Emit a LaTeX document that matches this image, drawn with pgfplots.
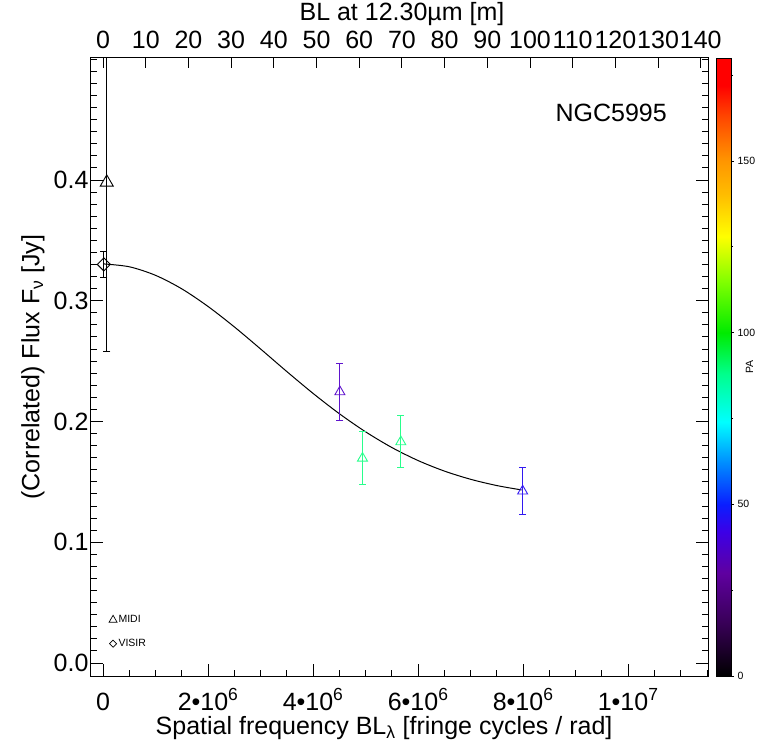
\documentclass[border=0pt]{standalone}
\usepackage{pgfplots}
\pgfplotsset{compat=1.18}
\usepackage{fontspec}
\setmainfont{Liberation Sans}
\newcommand{\fbig}{\fontsize{25}{29}\selectfont}
\newcommand{\fsmall}{\fontsize{10.5}{12.5}\selectfont}
\definecolor{papurple}{RGB}{95,20,205}
\definecolor{pagreen}{RGB}{40,255,140}
\definecolor{pablue}{RGB}{50,25,240}
\pgfplotsset{colormap={pa}{rgb255(0pt)=(0,0,0) rgb255(15pt)=(55,0,85) rgb255(30pt)=(95,0,160) rgb255(42pt)=(60,0,230) rgb255(50pt)=(10,30,255) rgb255(62pt)=(0,140,255) rgb255(74pt)=(0,255,255) rgb255(88pt)=(0,255,140) rgb255(100pt)=(0,235,0) rgb255(115pt)=(130,255,0) rgb255(128pt)=(255,255,0) rgb255(140pt)=(255,190,0) rgb255(150pt)=(255,150,0) rgb255(163pt)=(255,70,0) rgb255(172pt)=(255,0,0) rgb255(180pt)=(255,0,0)}}
\begin{document}
\begin{tikzpicture}
\useasboundingbox (-91pt,-66pt) rectangle (666pt,676pt);
\begin{axis}[
  scale only axis, width=617pt, height=618pt,
  xmin=-2.3e5, xmax=1.152e7, ymin=-0.0108, ymax=0.501,
  scaled x ticks=false, scaled y ticks=false,
  xtick={0,2e6,4e6,6e6,8e6,1e7},
  xticklabels={0,2•10\textsuperscript{6},4•10\textsuperscript{6},6•10\textsuperscript{6},8•10\textsuperscript{6},1•10\textsuperscript{7}},
  minor xtick={5e5,1e6,1.5e6,2.5e6,3e6,3.5e6,4.5e6,5e6,5.5e6,6.5e6,7e6,7.5e6,8.5e6,9e6,9.5e6,1.05e7,1.1e7,1.15e7},
  ytick={0,0.1,0.2,0.3,0.4},
  minor ytick={0.01,0.02,0.03,0.04,0.05,0.06,0.07,0.08,0.09,0.11,0.12,0.13,0.14,0.15,0.16,0.17,0.18,0.19,0.21,0.22,0.23,0.24,0.25,0.26,0.27,0.28,0.29,0.31,0.32,0.33,0.34,0.35,0.36,0.37,0.38,0.39,0.41,0.42,0.43,0.44,0.45,0.46,0.47,0.48,0.49,0.5},
  yticklabel style={xshift=1pt, /pgf/number format/.cd, fixed, fixed zerofill, precision=1},
  /pgf/number format/assume math mode=true,
  tick label style={font=\fbig},
  xticklabel style={anchor=base, yshift=-34pt},
  tick align=inside, major tick length=12pt, minor tick length=6pt,
  xtick pos=left,
  axis line style={line width=1pt},
  every tick/.style={black, line width=0.9pt},
  xlabel={Spatial frequency BL\textsubscript{λ} [fringe cycles / rad]},
  xlabel style={font=\fbig, at={(axis description cs:0.475,-0.0841)}, anchor=center},
  ylabel={(Correlated) Flux F\textsubscript{ν} [Jy]},
  ylabel style={font=\fbig, at={(axis description cs:-0.094,0.5)}, anchor=center},
  colormap name=pa, colorbar, point meta min=0, point meta max=180,
  colorbar style={
    scale only axis, width=15pt, height=618pt,
    at={(parent axis.north east)}, anchor=north west, xshift=0pt,
    ytick={0,50,100,150}, minor ytick={25,75,125,175},
    ytick pos=right, yticklabel pos=right,
    yticklabel style={font=\fsmall},
    /pgf/number format/assume math mode=true,
    ylabel={PA}, ylabel style={font=\fsmall}, ylabel shift=-16pt,
    tick align=outside, major tick length=2.5pt, minor tick length=1.5pt,
    axis line style={line width=0.6pt},
  },
  legend style={at={(rel axis cs:0.029,0.099)}, anchor=north west, draw=none, fill=none, inner sep=0pt, row sep=14pt, column sep=1pt, font=\fsmall, nodes={inner sep=0.5pt}},
  legend cell align=left,
  legend image code/.code={\draw[#1] plot coordinates {(0pt,0pt)};},
  error bars/y dir=both, error bars/y explicit,
  error bars/error mark options={rotate=90, mark size=3.5pt, line width=1pt},
  error bars/error bar style={line width=1pt},
]
\addplot[black, line width=1pt, smooth, forget plot] coordinates {
(0,0.3305) (5e5,0.3281) (1e6,0.3210) (1.5e6,0.3098) (2e6,0.2952) (2.5e6,0.2783)
(3e6,0.2600) (3.5e6,0.2413) (4e6,0.2232) (4.5e6,0.2064) (5e6,0.1914)
(5.5e6,0.1784) (6e6,0.1676) (6.5e6,0.1589) (7e6,0.1521) (7.5e6,0.1469) (7.97e6,0.1433)};
\addplot[black, only marks, mark=triangle, mark size=7.5pt, line width=0.9pt, forget plot] coordinates {(7e4,0.398) +- (0,0.140)};
\addplot[black, only marks, mark=square, mark size=4.6pt, mark options={rotate=45}, line width=0.9pt, forget plot] coordinates {(1.5e4,0.330) +- (0,0.011)};
\addplot[papurple, only marks, mark=triangle, mark size=5.8pt, line width=0.9pt, forget plot] coordinates {(4.51e6,0.2245) +- (0,0.0237)};
\addplot[pagreen, only marks, mark=triangle, mark size=5.8pt, line width=0.9pt, forget plot] coordinates {(4.94e6,0.1695) +- (0,0.0221) (5.67e6,0.1831) +- (0,0.0216)};
\addplot[pablue, only marks, mark=triangle, mark size=5.8pt, line width=0.9pt, forget plot] coordinates {(7.99e6,0.1423) +- (0,0.0195)};
\addlegendimage{black, only marks, mark=triangle, mark size=4.6pt, line width=0.7pt}
\addlegendentry{MIDI}
\addlegendimage{black, only marks, mark=square, mark size=2.5pt, mark options={rotate=45}, line width=0.7pt}
\addlegendentry{VISIR}
\node[font=\fbig] at (rel axis cs:0.843,0.911) {NGC5995};
\end{axis}
\begin{axis}[
  scale only axis, width=617pt, height=618pt,
  xmin=-2.829, xmax=141.70, ymin=0, ymax=1,
  axis x line*=top, hide y axis,
  xtick={0,10,...,140}, minor xtick={},
  tick label style={font=\fbig},
  /pgf/number format/assume math mode=true,
  xticklabel style={anchor=base, yshift=9pt},
  tick align=inside, major tick length=10pt,
  axis line style={line width=1pt},
  every tick/.style={black, line width=0.9pt},
  xlabel={BL at 12.30µm [m]},
  xlabel style={font=\fbig, at={(axis description cs:0.504,1.0712)}, anchor=center},
]
\addplot[draw=none, forget plot] coordinates {(0,0.5)};
\end{axis}
\end{tikzpicture}
\end{document}
